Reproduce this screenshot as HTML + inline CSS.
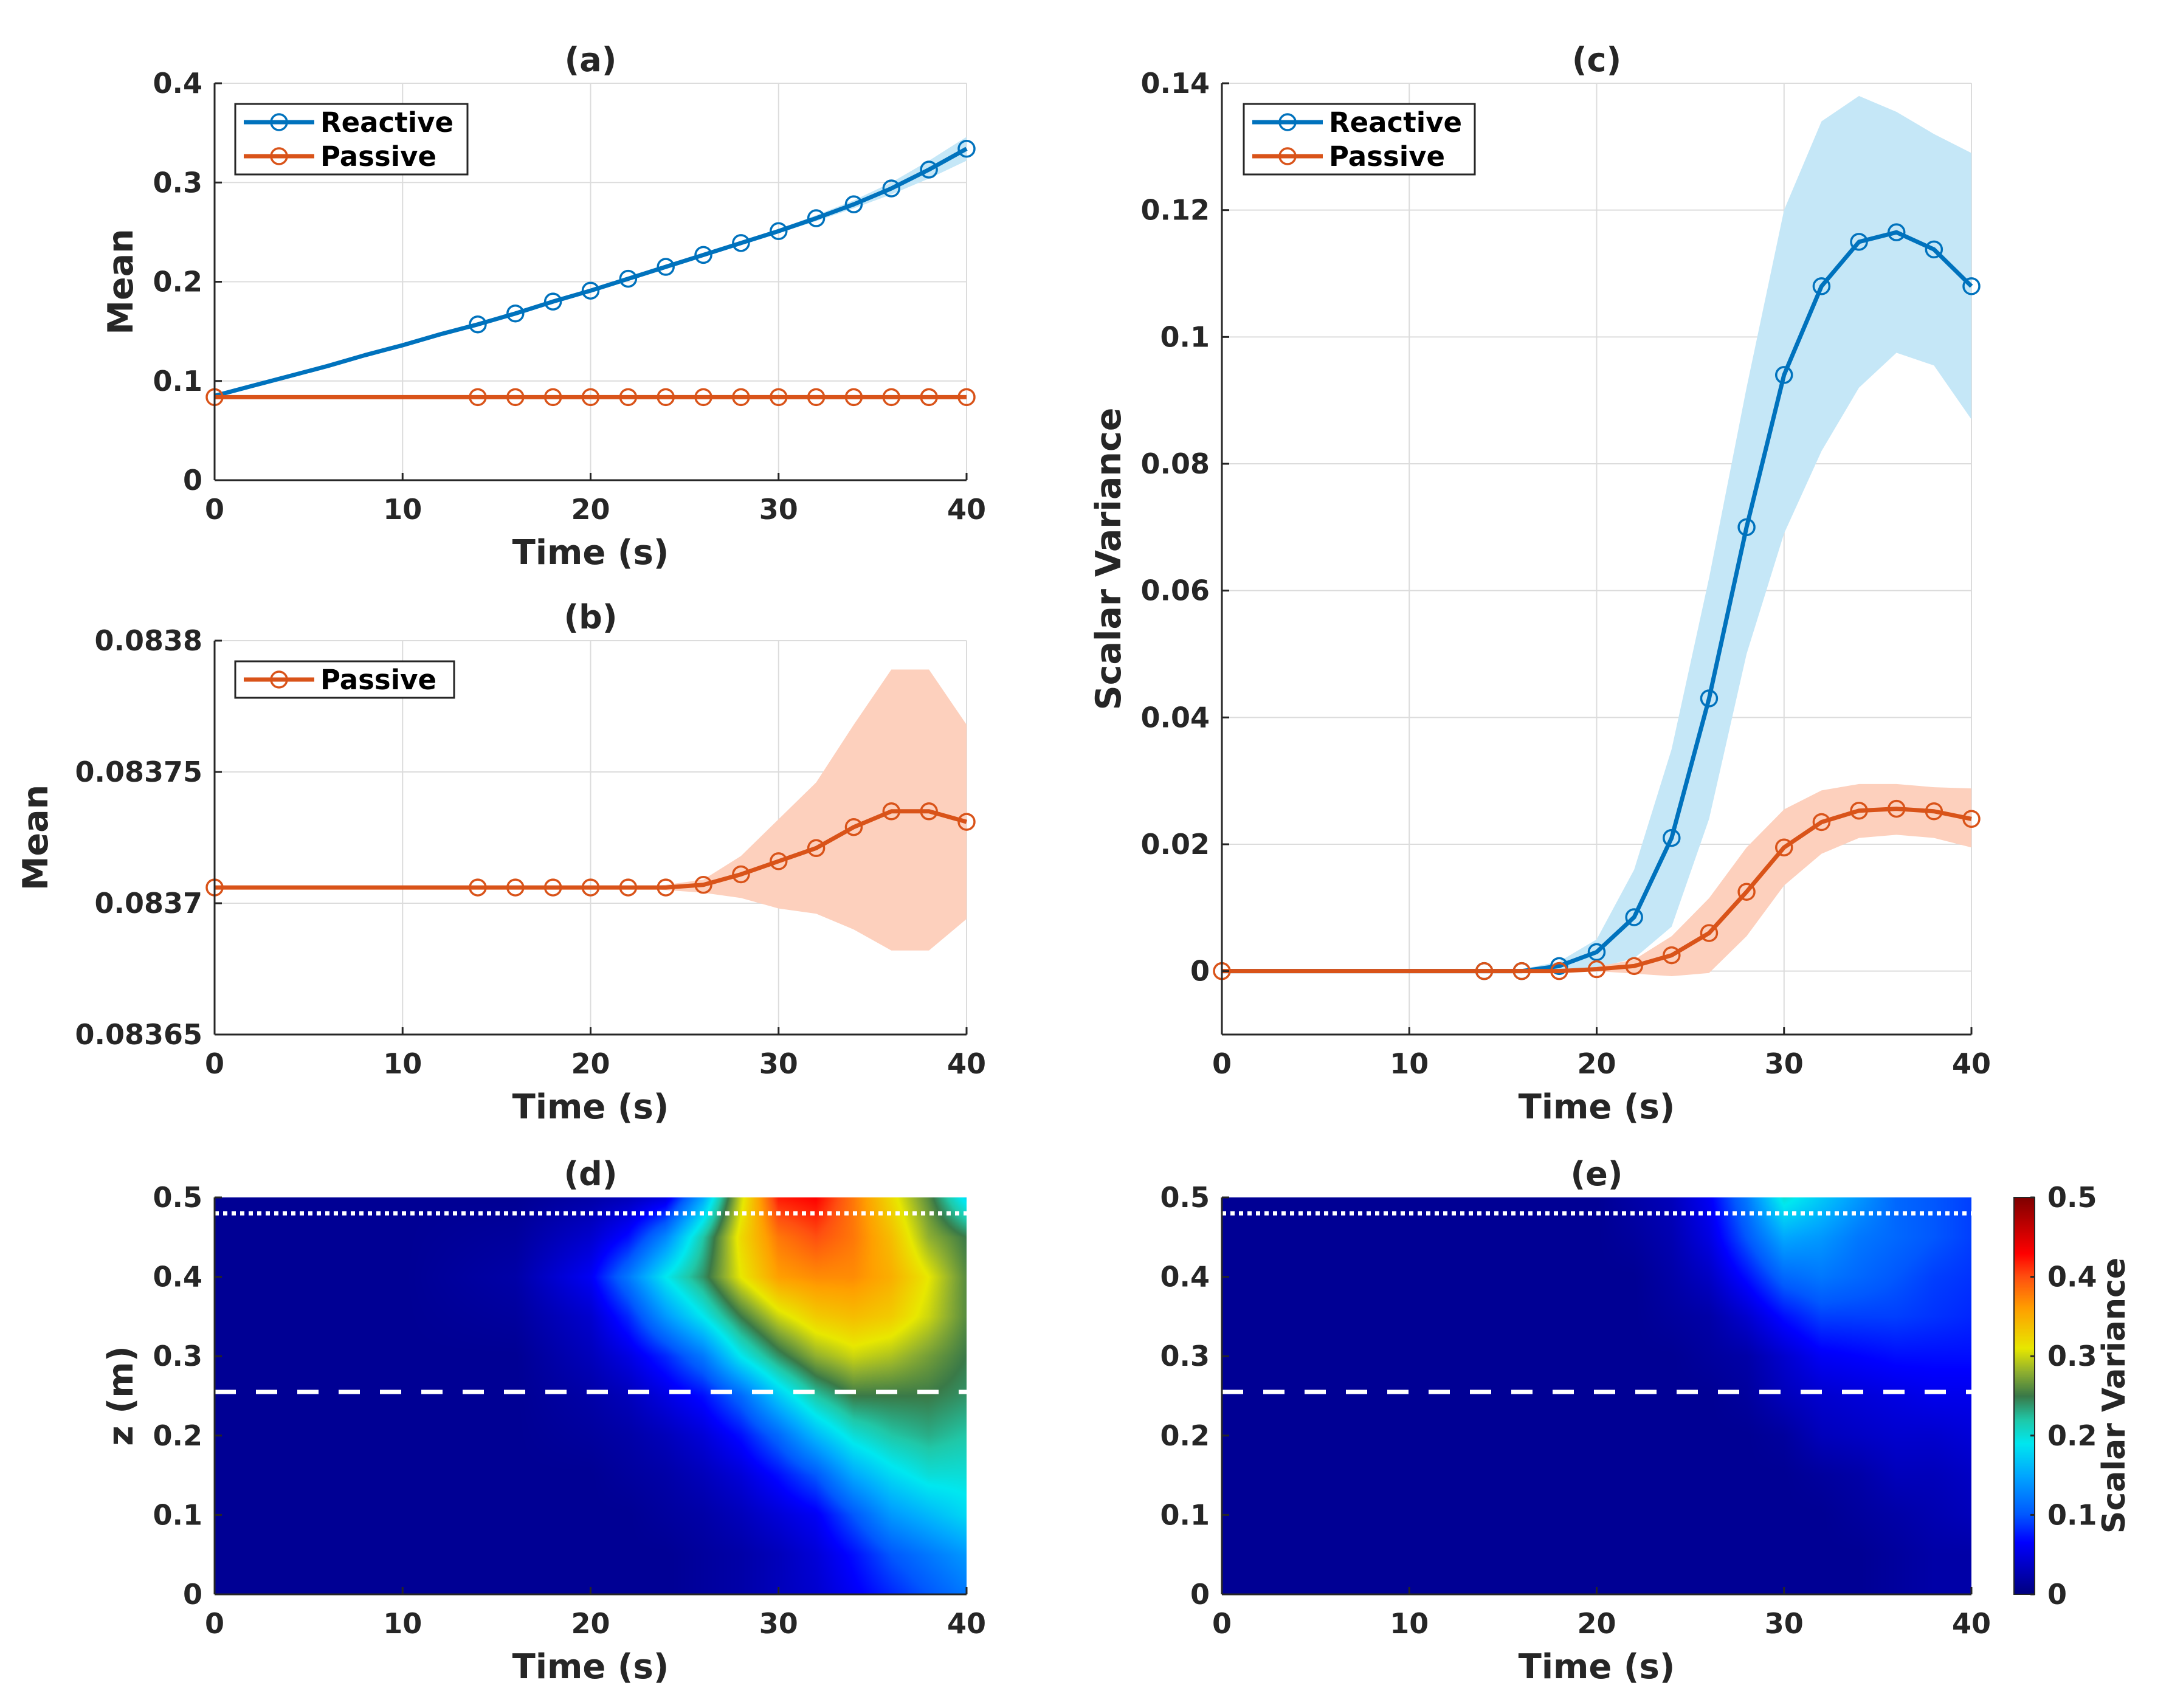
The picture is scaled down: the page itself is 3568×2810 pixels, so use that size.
<!DOCTYPE html>
<html><head><meta charset="utf-8">
<style>
html,body{margin:0;padding:0;background:#fff;}
svg text{font-family:"DejaVu Sans","Liberation Sans",sans-serif;font-weight:bold;fill:#262626;}
#wrap{position:relative;width:3568px;height:2810px;}
canvas{position:absolute;}
</style></head>
<body>
<div id="wrap">
<canvas id="cd" style="left:353px;top:1970px;width:1237px;height:653px"></canvas>
<canvas id="ce" style="left:2010px;top:1970px;width:1233px;height:653px"></canvas>
<canvas id="cb" style="left:3313px;top:1970px;width:34px;height:653px"></canvas>
<svg id="s" width="3568" height="2810" style="position:absolute;left:0;top:0"></svg>
</div>
<script>
// ---- data ----
const tLine=[0,2,4,6,8,10,12,14,16,18,20,22,24,26,28,30,32,34,36,38,40];
const markT=[14,16,18,20,22,24,26,28,30,32,34,36,38,40];
const reactMeanA=[0.085,0.095,0.105,0.115,0.126,0.136,0.147,0.157,0.168,0.180,0.191,0.203,0.215,0.227,0.239,0.251,0.264,0.278,0.294,0.313,0.334];
const reactBandAUp=[0.085,0.095,0.105,0.115,0.126,0.136,0.147,0.157,0.168,0.180,0.191,0.203,0.215,0.227,0.240,0.253,0.267,0.282,0.300,0.322,0.346];
const reactBandALo=[0.085,0.095,0.105,0.115,0.126,0.136,0.147,0.157,0.168,0.180,0.191,0.203,0.215,0.227,0.238,0.249,0.261,0.274,0.288,0.304,0.322];
const passMeanA=[0.0837,0.0837,0.0837,0.0837,0.0837,0.0837,0.0837,0.0837,0.0837,0.0837,0.0837,0.0837,0.0837,0.0837,0.0837,0.0837,0.0837,0.0837,0.0837,0.0837,0.0837];
const passMeanB=[0.083706,0.083706,0.083706,0.083706,0.083706,0.083706,0.083706,0.083706,0.083706,0.083706,0.083706,0.083706,0.083706,0.083707,0.083711,0.083716,0.083721,0.083729,0.083735,0.083735,0.083731];
const passBandBUp=[0.083706,0.083706,0.083706,0.083706,0.083706,0.083706,0.083706,0.083706,0.083706,0.083706,0.083706,0.083706,0.083707,0.083709,0.083718,0.083732,0.083746,0.083768,0.083789,0.083789,0.083768];
const passBandBLo=[0.083706,0.083706,0.083706,0.083706,0.083706,0.083706,0.083706,0.083706,0.083706,0.083706,0.083706,0.083706,0.083705,0.083704,0.083702,0.083698,0.083696,0.08369,0.083682,0.083682,0.083694];
const reactVar=[0,0,0,0,0,0,0,0,0,0.0008,0.003,0.0085,0.021,0.043,0.070,0.094,0.108,0.115,0.1165,0.1138,0.108];
const reactVarUp=[0,0,0,0,0,0,0,0,0.0003,0.0015,0.005,0.016,0.035,0.062,0.092,0.12,0.134,0.138,0.1355,0.132,0.129];
const reactVarLo=[0,0,0,0,0,0,0,0,0,0,0.0005,0.002,0.007,0.024,0.050,0.069,0.082,0.092,0.0975,0.0955,0.087];
const passVar=[0,0,0,0,0,0,0,0,0,0,0.0003,0.0008,0.0025,0.006,0.0125,0.0195,0.0235,0.0253,0.0256,0.0252,0.024];
const passVarUp=[0,0,0,0,0,0,0,0,0,0,0.0007,0.0018,0.0055,0.0115,0.0195,0.0255,0.0285,0.0295,0.0295,0.029,0.0288];
const passVarLo=[0,0,0,0,0,0,0,0,0,0,0,-0.0004,-0.0008,-0.0003,0.0055,0.0135,0.0185,0.021,0.0215,0.021,0.0195];
const xTicks=[0,10,20,30,40];
const yTicksA=[0,0.1,0.2,0.3,0.4];
const yTicksB=[0.08365,0.0837,0.08375,0.0838];
const yTickLabelsB=["0.08365","0.0837","0.08375","0.0838"];
const yTicksC=[0,0.02,0.04,0.06,0.08,0.1,0.12,0.14];
const yTicksZ=[0,0.1,0.2,0.3,0.4,0.5];
const cbTicks=[0,0.1,0.2,0.3,0.4,0.5];
// heatmap grids: one array per time column, values for z=0..0.5 step .05
const hmT=[0,10,16,20,22,24,26,28,30,32,34,36,38,40];
const hmZ=[0,0.05,0.1,0.15,0.2,0.25,0.3,0.35,0.4,0.45,0.5];
const heatD=[
[.01,.01,.01,.01,.01,.01,.01,.01,.01,.01,.01],
[.01,.01,.01,.01,.01,.01,.01,.01,.01,.01,.01],
[.01,.01,.01,.01,.01,.01,.01,.015,.02,.015,.01],
[.01,.01,.01,.01,.015,.02,.03,.04,.06,.04,.02],
[.01,.01,.01,.015,.02,.03,.05,.08,.12,.07,.03],
[.01,.01,.015,.02,.03,.05,.08,.14,.19,.13,.05],
[.015,.015,.02,.03,.045,.07,.12,.19,.24,.22,.15],
[.02,.02,.03,.045,.07,.11,.19,.25,.31,.32,.3],
[.03,.03,.045,.07,.11,.17,.24,.3,.36,.38,.42],
[.04,.045,.06,.1,.16,.22,.28,.33,.37,.4,.43],
[.06,.07,.1,.15,.2,.25,.3,.34,.37,.38,.38],
[.08,.1,.14,.18,.22,.25,.29,.33,.35,.34,.32],
[.1,.12,.16,.2,.23,.25,.27,.3,.31,.28,.26],
[.12,.14,.18,.2,.22,.24,.25,.26,.26,.25,.18]];
const heatE=[
[.01,.01,.01,.01,.01,.01,.01,.01,.01,.01,.01],
[.01,.01,.01,.01,.01,.01,.01,.01,.01,.01,.01],
[.01,.01,.01,.01,.01,.01,.01,.01,.01,.01,.01],
[.01,.01,.01,.01,.01,.01,.01,.01,.01,.01,.01],
[.01,.01,.01,.01,.01,.01,.01,.01,.01,.015,.02],
[.01,.01,.01,.01,.01,.01,.01,.015,.02,.025,.03],
[.01,.01,.01,.01,.01,.01,.015,.02,.035,.05,.06],
[.01,.01,.01,.01,.01,.015,.02,.04,.07,.1,.12],
[.01,.01,.01,.01,.015,.03,.04,.07,.11,.15,.2],
[.01,.01,.01,.015,.03,.04,.06,.09,.12,.14,.17],
[.01,.01,.015,.02,.035,.045,.065,.09,.11,.12,.14],
[.015,.015,.02,.03,.04,.05,.07,.09,.1,.11,.11],
[.02,.02,.025,.03,.04,.055,.07,.085,.09,.1,.1],
[.02,.02,.03,.035,.045,.055,.07,.08,.085,.09,.09]];
const dottedZ=0.48, dashedZ=0.255;
// colormap stops (value, color)
const cmV=[0,0.065,0.1,0.15,0.19,0.22,0.25,0.28,0.31,0.36,0.4,0.43,0.5];
const cmC=[[0,0,128],[0,0,255],[0,88,255],[0,168,255],[0,232,240],[32,200,168],[58,122,72],[144,176,48],[232,232,0],[255,160,0],[255,80,16],[255,0,0],[128,0,0]];

const BLUE="#0072BD", ORANGE="#D95319", LBLUE="#c5e7f7", LORANGE="#fdd0bd";
const NS="http://www.w3.org/2000/svg";
const svg=document.getElementById('s');
function el(tag,attrs,parent){const e=document.createElementNS(NS,tag);for(const k in attrs)e.setAttribute(k,attrs[k]);(parent||svg).appendChild(e);return e;}
function txt(s,x,y,size,anchor,parent,rot){const t=el('text',{x:x,y:y,'font-size':size,'text-anchor':anchor||'middle'},parent);if(rot)t.setAttribute('transform',`rotate(${rot} ${x} ${y})`);t.textContent=s;return t;}

function axes(cfg){
  const {name,x0,x1,y0,y1,xmin,xmax,ymin,ymax,yticks,grid}=cfg;
  const g=el('g',{});
  const sx=v=>x0+(v-xmin)/(xmax-xmin)*(x1-x0);
  const sy=v=>y1-(v-ymin)/(ymax-ymin)*(y1-y0);
  if(grid){
    xTicks.forEach(v=>{const l=el('line',{x1:sx(v),x2:sx(v),y1:y0,y2:y1,stroke:'#dcdcdc','stroke-width':2},g);});
    yticks.forEach(v=>{const l=el('line',{x1:x0,x2:x1,y1:sy(v),y2:sy(v),stroke:'#dcdcdc','stroke-width':2},g);});
  }
  return {g,sx,sy,cfg};
}
function frame(A){
  const {x0,x1,y0,y1,yticks,ylabels,ylabel,title,ylabelX}=A.cfg;
  const g=el('g',{});
  el('line',{x1:x0,x2:x1,y1:y1,y2:y1,stroke:'#262626','stroke-width':3},g);
  el('line',{x1:x0,x2:x0,y1:y0,y2:y1,stroke:'#262626','stroke-width':3},g);
  xTicks.forEach(v=>{el('line',{x1:A.sx(v),x2:A.sx(v),y1:y1,y2:y1-12,stroke:'#262626','stroke-width':3},g);
    const t=txt(String(v),A.sx(v),y1+64,46,'middle',g);});
  yticks.forEach((v,i)=>{el('line',{x1:x0,x2:x0+12,y1:A.sy(v),y2:A.sy(v),stroke:'#262626','stroke-width':3},g);
    const t=txt(ylabels?ylabels[i]:String(v),x0-20,A.sy(v)+16,46,'end',g);});
  const xl=txt('Time (s)',(x0+x1)/2,y1+138,56,'middle',g);
  if(ylabel){const yl=txt(ylabel,ylabelX,(y0+y1)/2,57,'middle',g,-90);}
  const tt=txt(title,(x0+x1)/2,y0-20,54,'middle',g);
}
function band(A,up,lo,color,name){
  let d='';tLine.forEach((t,i)=>{d+=(i?'L':'M')+A.sx(t)+','+A.sy(up[i]);});
  for(let i=tLine.length-1;i>=0;i--)d+='L'+A.sx(tLine[i])+','+A.sy(lo[i]);
  const p=el('path',{d:d+'Z',fill:color,stroke:'none'},A.g);
}
function series(A,vals,color,name,m0){
  let d='';tLine.forEach((t,i)=>{d+=(i?'L':'M')+A.sx(t)+','+A.sy(vals[i]);});
  const p=el('path',{d:d,fill:'none',stroke:color,'stroke-width':7,'stroke-linejoin':'round'},A.g);
  const ts=m0?[0].concat(markT):markT;
  ts.forEach(t=>{const i=tLine.indexOf(t);const c=el('circle',{cx:A.sx(t),cy:A.sy(vals[i]),r:13,fill:'none',stroke:color,'stroke-width':3.5},A.g);});
}
function legend(x,y,w,entries){
  const g=el('g',{});
  el('rect',{x:x,y:y,width:w,height:entries.length*56+4,fill:'#fff',stroke:'#262626','stroke-width':3},g);
  entries.forEach((e,i)=>{const cy=y+30+i*56;const eg=el('g',{},g);
    el('line',{x1:x+14,x2:x+130,y1:cy,y2:cy,stroke:e[1],'stroke-width':7},eg);
    el('circle',{cx:x+72,cy:cy,r:13,fill:'none',stroke:e[1],'stroke-width':3.5},eg);
    const t=txt(e[0],x+140,cy+16,45,'start',eg);t.style.fill='#000';});
}
// Panel a
const A=axes({name:'panel-a',x0:353,x1:1590,y0:137,y1:790,xmin:0,xmax:40,ymin:0,ymax:0.4,yticks:yTicksA,ylabel:'Mean',title:'(a)',grid:true,ylabelX:218});
band(A,reactBandAUp,reactBandALo,LBLUE,'reactive-band');
series(A,reactMeanA,BLUE,'reactive',false);
series(A,passMeanA,ORANGE,'passive',true);
frame(A);legend(387,171,382,[['Reactive',BLUE],['Passive',ORANGE]]);
// Panel b
const B=axes({name:'panel-b',x0:353,x1:1590,y0:1054,y1:1702,xmin:0,xmax:40,ymin:0.08365,ymax:0.0838,yticks:yTicksB,ylabels:yTickLabelsB,ylabel:'Mean',title:'(b)',grid:true,ylabelX:78});
band(B,passBandBUp,passBandBLo,LORANGE,'passive-band');
series(B,passMeanB,ORANGE,'passive',true);
frame(B);legend(387,1088,360,[['Passive',ORANGE]]);
// Panel c
const C=axes({name:'panel-c',x0:2010,x1:3243,y0:137,y1:1702,xmin:0,xmax:40,ymin:-0.01,ymax:0.14,yticks:yTicksC,ylabel:'Scalar Variance',title:'(c)',grid:true,ylabelX:1843});
band(C,reactVarUp,reactVarLo,LBLUE,'reactive-band');
band(C,passVarUp,passVarLo,LORANGE,'passive-band');
series(C,reactVar,BLUE,'reactive',false);
series(C,passVar,ORANGE,'passive',true);
frame(C);legend(2046,171,380,[['Reactive',BLUE],['Passive',ORANGE]]);

function cmap(v){v=Math.max(0,Math.min(0.5,v));let i=0;while(i<cmV.length-2&&v>cmV[i+1])i++;
  const f=(v-cmV[i])/(cmV[i+1]-cmV[i]);return cmC[i].map((c,k)=>c+(cmC[i+1][k]-c)*f);}
function sample(M,t,z){let ti=0;while(ti<hmT.length-2&&t>hmT[ti+1])ti++;
  const zi=Math.min(hmZ.length-2,Math.floor(z/0.05));
  const ft=(t-hmT[ti])/(hmT[ti+1]-hmT[ti]),fz=(z-hmZ[zi])/0.05;
  const a=M[ti][zi]*(1-ft)+M[ti+1][zi]*ft,b=M[ti][zi+1]*(1-ft)+M[ti+1][zi+1]*ft;return a*(1-fz)+b*fz;}
function heat(id,M){const c=document.getElementById(id);const W=parseInt(c.style.width),H=parseInt(c.style.height);c.width=W;c.height=H;
  const ctx=c.getContext('2d');const img=ctx.createImageData(W,H);
  for(let y=0;y<H;y++){const z=0.5*(1-y/(H-1));for(let x=0;x<W;x++){const t=40*x/(W-1);const col=cmap(sample(M,t,z));const k=(y*W+x)*4;img.data[k]=col[0];img.data[k+1]=col[1];img.data[k+2]=col[2];img.data[k+3]=255;}}
  ctx.putImageData(img,0,0);}
heat('cd',heatD);heat('ce',heatE);
(function(){const c=document.getElementById('cb');c.width=34;c.height=653;const ctx=c.getContext('2d');
  for(let y=0;y<653;y++){const col=cmap(0.5*(1-y/652));ctx.fillStyle=`rgb(${col[0]|0},${col[1]|0},${col[2]|0})`;ctx.fillRect(0,y,34,1);}})();
function hmAxes(name,x0,x1,title,ylabel){
  const H=axes({name:name,x0:x0,x1:x1,y0:1970,y1:2623,xmin:0,xmax:40,ymin:0,ymax:0.5,yticks:yTicksZ,ylabel:ylabel,title:title,grid:false,ylabelX:218});
  const l1=el('line',{x1:x0,x2:x1,y1:H.sy(dottedZ),y2:H.sy(dottedZ),stroke:'#fff','stroke-width':7,'stroke-dasharray':'7 7'},H.g);
  
  const l2=el('line',{x1:x0,x2:x1,y1:H.sy(dashedZ),y2:H.sy(dashedZ),stroke:'#fff','stroke-width':7,'stroke-dasharray':'35 33'},H.g);
  
  frame(H);
}
hmAxes('panel-d',353,1590,'(d)','z (m)');
hmAxes('panel-e',2010,3243,'(e)',null);
// colorbar axis
const cg=el('g',{});
el('rect',{x:3313,y:1970,width:34,height:653,fill:'none',stroke:'#262626','stroke-width':2},cg);
cbTicks.forEach(v=>{const y=2623-v/0.5*653;el('line',{x1:3340,x2:3347,y1:y,y2:y,stroke:'#262626','stroke-width':3},cg);
  const t=txt(String(v),3368,y+16,46,'start',cg);});
const cl=txt('Scalar Variance',3495,2296,52,'middle',cg,-90);
</script>
</body></html>
